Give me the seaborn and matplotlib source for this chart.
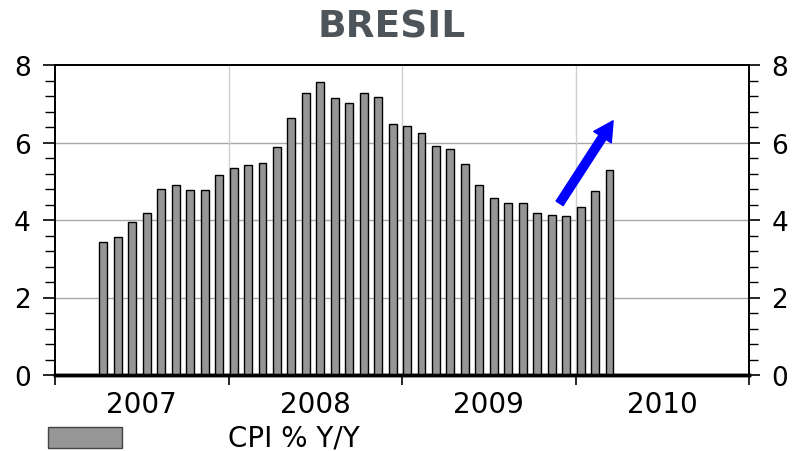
import numpy as np
import pandas as pd
import matplotlib
matplotlib.use('Agg')
import matplotlib.pyplot as plt
from matplotlib.patches import Rectangle
from matplotlib.ticker import MultipleLocator, FixedLocator, NullFormatter
import seaborn as sns

# ---- data ----
months = pd.date_range('2007-04-01', '2010-03-01', freq='MS')
cpi = [3.44, 3.57, 3.96, 4.17, 4.81, 4.91, 4.78, 4.78, 5.15, 5.35, 5.41, 5.48,
       5.88, 6.62, 7.27, 7.56, 7.16, 7.03, 7.27, 7.18, 6.48, 6.42, 6.24, 5.91,
       5.82, 5.44, 4.91, 4.58, 4.45, 4.45, 4.17, 4.14, 4.11, 4.34, 4.75, 5.29]
years = ['2007', '2008', '2009', '2010']
y_ticks = [0, 2, 4, 6, 8]
series_label = 'CPI % Y/Y'
title = 'BRESIL'

# month index counted from Jan 2007
df = pd.DataFrame({'date': months, 'cpi': cpi})
df['pos'] = (df['date'].dt.year - 2007) * 12 + df['date'].dt.month - 1 + 0.35

sns.set_style('white')
plt.rcParams['font.family'] = ['DejaVu Sans']
plt.rcParams['text.color'] = 'black'
plt.rcParams['xtick.color'] = 'black'
plt.rcParams['ytick.color'] = 'black'

BAR = '#969696'

fig = plt.figure(figsize=(7.92, 4.52), dpi=100)
ax = fig.add_axes([55/792, 76/452, 694/792, 310/452])

sns.barplot(data=df, x='pos', y='cpi', native_scale=True, width=0.55,
            color=BAR, edgecolor='black', linewidth=1, errorbar=None,
            saturation=1, ax=ax, zorder=3)

ax.set_xlim(0, 48)
ax.set_ylim(0, 8)
ax.set_xlabel('')
ax.set_ylabel('')

# grid
for v in [2, 4, 6]:
    ax.axhline(v, color='#a8a8a8', lw=1, zorder=1)
for v in [12, 24, 36]:
    ax.axvline(v, color='#cfcfcf', lw=1, zorder=1)

# x axis: year boundaries as ticks, year names mid-year
ax.xaxis.set_major_locator(FixedLocator([0, 12, 24, 36, 48]))
ax.xaxis.set_major_formatter(NullFormatter())
ax.xaxis.set_minor_locator(FixedLocator([6, 18, 30, 42]))
ax.set_xticklabels(years, minor=True)
ax.tick_params(axis='x', which='major', direction='out', length=7, width=1.2,
               color='black', bottom=True)
ax.tick_params(axis='x', which='minor', length=0, pad=11, labelsize=20)

# y axes both sides
ax.yaxis.set_major_locator(FixedLocator(y_ticks))
ax.yaxis.set_minor_locator(MultipleLocator(0.4))
ax.tick_params(axis='y', which='major', direction='out', length=8.5, width=1.2,
               labelsize=19, pad=9, left=True)
ax.tick_params(axis='y', which='minor', direction='out', length=7, width=1,
               left=True)

ax2 = ax.twinx()
ax2.set_ylim(0, 8)
ax2.yaxis.set_major_locator(FixedLocator(y_ticks))
ax2.yaxis.set_minor_locator(MultipleLocator(0.4))
ax2.tick_params(axis='y', which='major', direction='out', length=8, width=1.2,
                labelsize=19, pad=8, right=True)
ax2.tick_params(axis='y', which='minor', direction='out', length=6.5, width=1,
                right=True)

for a in (ax, ax2):
    for s in a.spines.values():
        s.set_color('black')
        s.set_linewidth(1.3)
    a.spines['bottom'].set_linewidth(2.5)

# blue arrow
ax.annotate('', xy=(38.6, 6.56), xytext=(34.9, 4.43),
            arrowprops=dict(arrowstyle='simple,head_width=1.5,head_length=1.4,tail_width=0.6',
                            color='#0000ff', shrinkA=0, shrinkB=0,
                            mutation_scale=10),
            zorder=5)

# title
fig.text(392/792, 1 - 28/452, title, ha='center', va='center',
         fontsize=27, fontweight='bold', color='#4d555a')

# legend
fig.patches.append(Rectangle((48/792, 3/452), 74/792, 21/452,
                             transform=fig.transFigure, facecolor=BAR,
                             edgecolor='#444444', lw=1))
fig.text(228/792, 1 - 439/452, series_label, ha='left', va='center',
         fontsize=20)

fig.savefig('out.png', dpi=100)
